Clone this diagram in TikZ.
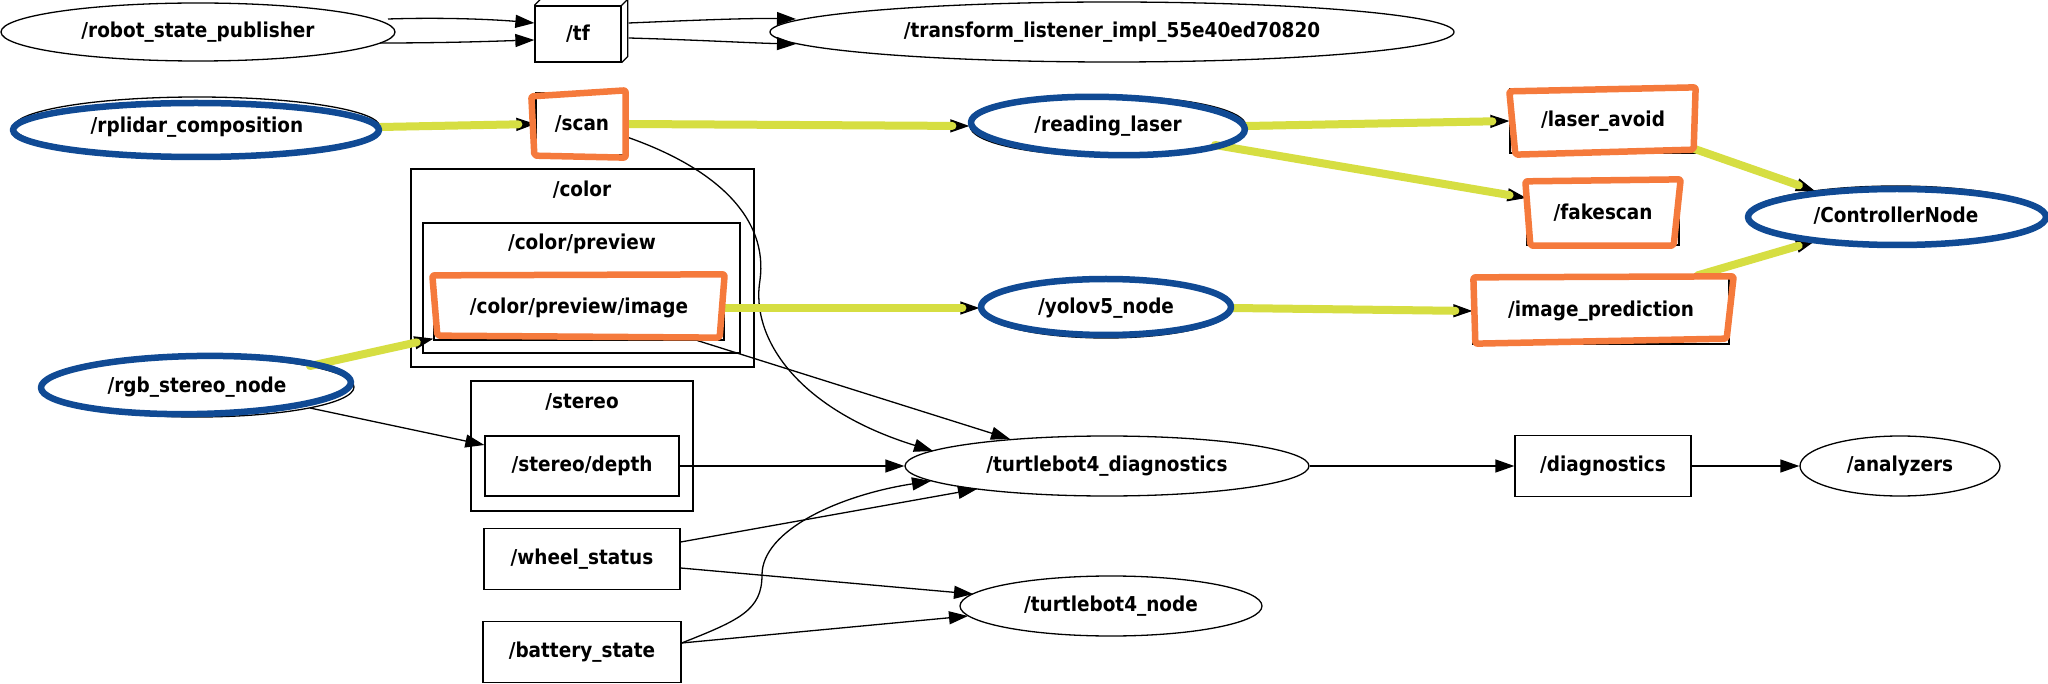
\documentclass[tikz,border=0pt]{standalone}
\usepackage{fontspec}
\newfontfamily\lblfont{DejaVu Sans Condensed Bold}
\usetikzlibrary{shapes.geometric, arrows.meta, calc}
\definecolor{hlblue}{RGB}{16,74,148}
\definecolor{hlorange}{RGB}{245,122,60}
\definecolor{hlyellow}{RGB}{214,222,66}
\begin{document}
\begin{tikzpicture}[x=1pt, y=-1pt,
  lbl/.style={font=\lblfont\fontsize{20.5}{22}\selectfont, inner sep=0pt},
  ell/.style={lbl, ellipse, draw, line width=1.3pt},
  bx/.style={lbl, rectangle, draw, line width=1.3pt},
  cl/.style={rectangle, draw, line width=1.3pt, inner sep=0pt},
  arr/.style={line width=1.3pt, -{Triangle[length=19pt, width=13pt]}},
  yl/.style={draw=hlyellow, line width=8pt, line cap=round, shorten >=17pt},
  bl/.style={draw=hlblue, line width=6.5pt, line join=round},
  og/.style={draw=hlorange, line width=6.5pt, line join=round, line cap=round, rounded corners=2pt},
]
\useasboundingbox[fill=white] (0,0) rectangle (2048,684);

% clusters
\node[cl, minimum width=343pt, minimum height=198pt] (ccolor) at (582.5,268) {};
\node[lbl] (lcolor) at (582,190) {/color};
\node[cl, minimum width=317pt, minimum height=130pt] (cprev) at (581.5,288) {};
\node[lbl] (lprev) at (582,244) {/color/preview};
\node[cl, minimum width=222pt, minimum height=130pt] (cstereo) at (582,446) {};
\node[lbl] (lstereo) at (582,402) {/stereo};

% nodes
\node[ell, minimum width=394pt, minimum height=58pt] (rsp) at (198,32) {/robot\_state\_publisher};
\node[bx, minimum width=86pt, minimum height=56pt] (tf) at (578,34) {/tf};
\node[ell, minimum width=684pt, minimum height=60pt] (tl) at (1112,32) {/transform\_listener\_impl\_55e40ed70820};

\node[ell, minimum width=366pt, minimum height=60pt] (rpl) at (197,127) {/rplidar\_composition};
\node[bx, minimum width=92pt, minimum height=62pt] (scan) at (582,124) {/scan};
\node[ell, minimum width=276pt, minimum height=60pt] (rl) at (1108,126) {/reading\_laser};
\node[bx, minimum width=186pt, minimum height=64pt] (la) at (1603,121) {/laser\_avoid};
\node[bx, minimum width=152pt, minimum height=64pt] (fs) at (1603,213) {/fakescan};
\node[ell, minimum width=298pt, minimum height=60pt] (cn) at (1896,216) {/ControllerNode};
\node[bx, minimum width=256pt, minimum height=66pt] (ip) at (1601,311) {/image\_prediction};
\node[ell, minimum width=252pt, minimum height=60pt] (yolo) at (1106,308) {/yolov5\_node};
\node[bx, minimum width=290pt, minimum height=64pt] (cpi) at (579,308) {/color/preview/image};
\node[ell, minimum width=314pt, minimum height=60pt] (rgb) at (197,387) {/rgb\_stereo\_node};
\node[bx, minimum width=194pt, minimum height=60pt] (depth) at (582,466) {/stereo/depth};
\node[ell, minimum width=404pt, minimum height=60pt] (diag) at (1107,466) {/turtlebot4\_diagnostics};
\node[bx, minimum width=176pt, minimum height=61pt] (dg) at (1603,466) {/diagnostics};
\node[ell, minimum width=200pt, minimum height=60pt] (an) at (1900,466) {/analyzers};
\node[bx, minimum width=196pt, minimum height=61pt] (ws) at (582,559) {/wheel\_status};
\node[bx, minimum width=198pt, minimum height=61pt] (bs) at (582,652) {/battery\_state};
\node[ell, minimum width=302pt, minimum height=60pt] (tb) at (1111,606) {/turtlebot4\_node};

% 3D part of /tf
\draw[line width=1.3pt, line join=round] (tf.north west) -- ++(6,-6) -- ($(tf.north east)+(6,-6)$) -- ($(tf.south east)+(6,-6)$) -- (tf.south east);
\draw[line width=1.3pt] (tf.north east) -- ++(6,-6);

% plain edges
\draw[arr] ($(rsp)+(190,-13)$) .. controls (450,17) and (500,20) .. ($(tf.west)+(0,-11)$);
\draw[arr] ($(rsp)+(182,11)$) .. controls (450,43) and (500,41) .. ($(tf.west)+(0,6)$);
\draw[arr] ($(tf.east)+(7,-11)$) .. controls (700,20) and (750,18) .. ($(tl)+(-316,-13)$);
\draw[arr] ($(tf.east)+(7,4)$) .. controls (700,40) and (750,43) .. ($(tl)+(-316,12)$);
\draw[arr] ($(scan.south east)+(0,-18)$) .. controls (720,170) and (768,220) .. (760,280) .. controls (750,340) and (800,410) .. ($(diag)+(-174,-15)$);
\draw[arr] ($(rgb)+(113,21)$) -- ($(depth.west)+(0,-21)$);
\draw[arr] ($(cpi.south east)+(-27,0)$) -- ($(diag)+(-97,-27)$);
\draw[arr] (depth.east) -- (diag.west);
\draw[arr] ($(ws.east)+(0,-17)$) -- ($(diag)+(-130,23)$);
\draw[arr] ($(ws.east)+(0,9)$) -- ($(tb)+(-138,-12)$);
\draw[arr] ($(bs.east)+(0,-9)$) -- ($(tb)+(-143,10)$);
\draw[arr] ($(bs.east)+(0,-9)$) .. controls (740,620) and (762,610) .. (762,575) .. controls (762,530) and (840,495) .. ($(diag)+(-176,15)$);
\draw[arr] (diag.east) -- (dg.west);
\draw[arr] (dg.east) -- (an.west);

% highlighted edges (black arrow, then yellow stroke)
\draw[arr] (rpl.east) -- (scan.west);
\draw[arr] (scan.east) -- (rl.west);
\draw[arr] (rl.east) -- (la.west);
\draw[arr] ($(rl)+(107,19)$) -- ($(fs.west)+(0,-15)$);
\draw[arr] ($(la.south east)+(-3,-5)$) -- ($(cn)+(-81,-25)$);
\draw[arr] ($(ip.north east)+(-32,-2)$) -- ($(cn)+(-81,25)$);
\draw[arr] ($(rgb)+(113,-21)$) -- ($(cpi.south west)+(0,-2)$);
\draw[arr] (cpi.east) -- (yolo.west);
\draw[arr] (yolo.east) -- (ip.west);

\draw[yl] (rpl.east) -- (scan.west);
\draw[yl] (scan.east) -- (rl.west);
\draw[yl] (rl.east) -- (la.west);
\draw[yl] ($(rl)+(107,19)$) -- ($(fs.west)+(0,-15)$);
\draw[yl] ($(la.south east)+(-3,-5)$) -- ($(cn)+(-81,-25)$);
\draw[yl] ($(ip.north east)+(-32,-2)$) -- ($(cn)+(-81,25)$);
\draw[yl] ($(rgb)+(113,-21)$) -- ($(cpi.south west)+(0,-2)$);
\draw[yl] (cpi.east) -- (yolo.west);
\draw[yl] (yolo.east) -- (ip.west);

% blue hand-drawn ellipses
\draw[bl] ($(rpl)+(-1,3)$) ellipse [x radius=183pt, y radius=27pt];
\draw[bl, rotate around={-1.5:(rl)}] ($(rl)+(0,0)$) ellipse [x radius=137pt, y radius=29pt];
\draw[bl] ($(cn)+(1,1)$) ellipse [x radius=149pt, y radius=28pt];
\draw[bl, rotate around={1:(rgb)}] ($(rgb)+(-1,-2)$) ellipse [x radius=155pt, y radius=29pt];
\draw[bl] ($(yolo)+(0,-1)$) ellipse [x radius=125pt, y radius=28pt];

% orange hand-drawn boxes
\draw[og] ($(scan.north west)+(-4,4)$) -- ($(scan.north east)+(-3,-2)$) -- ($(scan.south east)+(-3,2)$) -- ($(scan.south west)+(-1,0)$) -- cycle;
\draw[og] ($(la.north west)+(0,3)$) -- ($(la.north east)+(-1,-1)$) -- ($(la.south east)+(-3,-4)$) -- ($(la.south west)+(6,1)$) -- cycle;
\draw[og] ($(fs.north west)+(-1,1)$) -- ($(fs.north east)+(1,-1)$) -- ($(fs.south east)+(-6,0)$) -- ($(fs.south west)+(4,0)$) -- cycle;
\draw[og] ($(ip.north west)+(1,0)$) -- ($(ip.north east)+(4,-1)$) -- ($(ip.south east)+(-3,-6)$) -- ($(ip.south west)+(3,-1)$) -- cycle;
\draw[og] ($(cpi.north west)+(-1,0)$) -- ($(cpi.north east)+(0,-1)$) -- ($(cpi.south east)+(-5,-3)$) -- ($(cpi.south west)+(4,-5)$) -- cycle;
\end{tikzpicture}
\end{document}
